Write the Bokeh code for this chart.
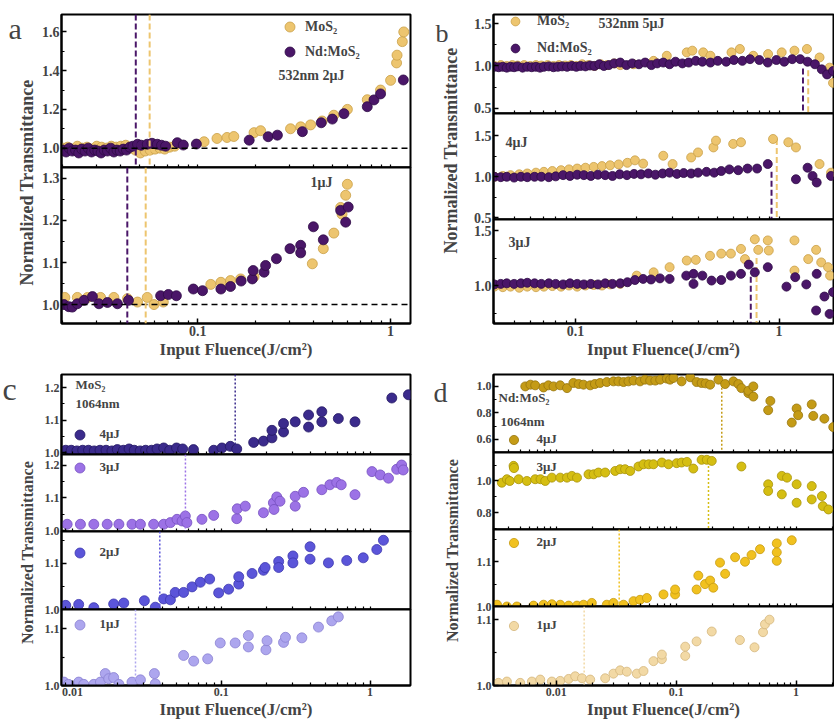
import math
from bokeh.plotting import figure
from bokeh.layouts import row, column
from bokeh.models import (Range1d, FixedTicker, PrintfTickFormatter, NumeralTickFormatter,
                          Span, Label, Legend, LegendItem)
from bokeh.core.validation import silence
from bokeh.core.validation.warnings import MISSING_RENDERERS
from bokeh.embed import file_html
from bokeh.resources import INLINE

silence(MISSING_RENDERERS, True)
SERIF = "Liberation Serif"

# ---------------- data ----------------
# panel a, 532nm 2uJ
a2_mos2_x = [0.0200, 0.0212, 0.0225, 0.0238, 0.0252, 0.0267, 0.0283, 0.0300, 0.0318, 0.0337, 0.0357, 0.0378,
             0.0400, 0.0424, 0.0449, 0.0476, 0.0505, 0.0535, 0.0567, 0.0601, 0.0637, 0.0675, 0.0716, 0.0760,
             0.108, 0.126, 0.142, 0.154, 0.196, 0.212, 0.303, 0.342, 0.385, 0.442, 0.508, 0.597, 0.757,
             0.887, 1.0, 1.074, 1.08, 1.15, 1.17]
a2_mos2_y = [1.0, 1.005, 0.995, 1.01, 1.0, 1.005, 0.995, 1.01, 1.005, 1.0, 1.01, 1.005,
             1.01, 1.015, 1.0, 0.99, 0.975, 0.985, 0.99, 0.995, 1.0, 0.995, 1.005, 1.01,
             1.033, 1.05, 1.055, 1.06, 1.08, 1.09, 1.10, 1.11, 1.12, 1.14, 1.17, 1.20, 1.25,
             1.30, 1.35, 1.44, 1.48, 1.55, 1.60]
a2_nd_x = [0.0200, 0.0208, 0.0216, 0.0224, 0.0233, 0.0242, 0.0251, 0.0261, 0.0271, 0.0282, 0.0293, 0.0304,
           0.0316, 0.0328, 0.0341, 0.0354, 0.0368, 0.0382, 0.0397, 0.0412, 0.0428, 0.0445, 0.0462, 0.0488,
           0.0510, 0.0548, 0.0580, 0.0618, 0.0650, 0.0682, 0.0785, 0.0843, 0.0985, 0.185, 0.232, 0.259,
           0.349, 0.437, 0.499, 0.573, 0.757, 0.820, 0.887, 1.164]
a2_nd_y = [0.99, 0.98, 1.0, 0.985, 0.99, 0.975, 0.995, 0.985, 1.0, 0.98, 0.99, 0.985,
           0.975, 0.99, 0.985, 1.0, 0.98, 0.99, 0.985, 0.995, 0.99, 1.005, 1.01, 1.02,
           1.015, 1.02, 1.025, 1.02, 1.015, 1.01, 1.028, 1.016, 1.021, 1.041, 1.059, 1.067,
           1.085, 1.131, 1.150, 1.178, 1.214, 1.249, 1.280, 1.352]
# panel a, 1uJ
a1_mos2_x = [0.0205, 0.0238, 0.0269, 0.0314, 0.0368, 0.0433, 0.0488, 0.0548, 0.0594, 0.0664,
             0.117, 0.132, 0.148, 0.167, 0.196, 0.393, 0.448, 0.508, 0.551, 0.585, 0.597, 0.560]
a1_mos2_y = [1.017, 1.017, 1.017, 1.017, 1.017, 1.014, 1.006, 1.017, 1.0, 1.006,
             1.048, 1.053, 1.057, 1.061, 1.066, 1.097, 1.133, 1.170, 1.231, 1.260, 1.286, 1.215]
a1_nd_x = [0.0203, 0.0215, 0.0224, 0.0238, 0.0258, 0.0285, 0.0308, 0.0341, 0.0384, 0.0438, 0.0643, 0.0705,
           0.0776, 0.095, 0.106, 0.132, 0.148, 0.168, 0.192, 0.194, 0.221, 0.225, 0.256, 0.301, 0.342,
           0.342, 0.398, 0.448, 0.551, 0.585, 0.603]
a1_nd_y = [1.0, 0.995, 0.994, 1.002, 1.01, 1.019, 1.002, 1.005, 1.002, 1.01, 1.021, 1.024,
           1.021, 1.037, 1.033, 1.037, 1.043, 1.056, 1.061, 1.081, 1.077, 1.093, 1.109, 1.133, 1.141,
           1.123, 1.185, 1.154, 1.224, 1.196, 1.232]
a_thr_mos2 = [0.0564, 0.0538]   # dashed thresholds (2uJ, 1uJ)
a_thr_nd = [0.0478, 0.0432]
a_ref_level = 1.0

# panel b, 532nm
b5_mos2_x = [0.040, 0.043, 0.046, 0.049, 0.052, 0.056, 0.060, 0.064, 0.068, 0.073, 0.078, 0.083, 0.089, 0.095,
             0.101, 0.108, 0.116, 0.124, 0.133, 0.143, 0.155, 0.166, 0.193, 0.242, 0.281, 0.352, 0.375,
             0.424, 0.46, 0.584, 0.642, 0.747, 0.883, 1.03, 1.19, 1.37, 1.58, 1.77, 1.84]
b5_mos2_y = [1.0, 1.01, 1.0, 1.01, 1.005, 1.01, 1.0, 1.01, 1.005, 1.01, 1.0, 1.01, 1.005, 1.01,
             1.0, 1.02, 1.01, 1.0, 1.02, 1.01, 1.03, 1.01, 1.02, 1.06, 1.12, 1.16, 1.18,
             1.16, 1.12, 1.16, 1.20, 1.12, 1.14, 1.16, 1.18, 1.20, 1.10, 0.98, 0.80]
b5_nd_x = [0.040, 0.042, 0.044, 0.046, 0.048, 0.050, 0.052, 0.055, 0.058, 0.061, 0.064, 0.067, 0.070, 0.074,
           0.078, 0.082, 0.086, 0.091, 0.096, 0.101, 0.106, 0.112, 0.118, 0.124, 0.131, 0.138, 0.146, 0.155,
           0.166, 0.178, 0.19, 0.205, 0.22, 0.236, 0.252, 0.27, 0.29, 0.31, 0.335, 0.36, 0.39, 0.42, 0.46,
           0.50, 0.55, 0.60, 0.66, 0.72, 0.80, 0.88, 0.97, 1.06, 1.16, 1.27, 1.38, 1.50, 1.62, 1.72, 1.84]
b5_nd_y = [0.99, 0.985, 0.99, 0.98, 0.99, 0.985, 0.995, 0.98, 0.99, 0.985, 0.99, 0.98, 0.99, 0.995,
           0.985, 0.99, 0.995, 0.99, 1.0, 0.99, 1.0, 0.995, 1.005, 1.0, 1.02, 1.0, 1.01, 1.03,
           1.04, 1.01, 1.03, 1.02, 1.04, 1.01, 1.03, 1.04, 1.02, 1.05, 1.03, 1.04, 1.06, 1.05, 1.04,
           1.06, 1.05, 1.07, 1.06, 1.08, 1.07, 1.04, 1.07, 1.05, 1.08, 1.08, 1.05, 1.02, 0.96, 0.90, 0.94]
b4_mos2_x = [0.040, 0.044, 0.048, 0.053, 0.058, 0.064, 0.070, 0.077, 0.085, 0.093, 0.102, 0.112, 0.123, 0.135,
             0.148, 0.163, 0.18, 0.196, 0.215, 0.27, 0.30, 0.37, 0.40, 0.476, 0.49, 0.595, 0.65, 0.934,
             1.11, 1.21, 1.58, 1.80]
b4_mos2_y = [1.0, 1.01, 1.02, 1.03, 1.04, 1.05, 1.06, 1.07, 1.08, 1.09, 1.10, 1.11, 1.12, 1.13,
             1.14, 1.15, 1.17, 1.20, 1.16, 1.256, 1.155, 1.235, 1.296, 1.357, 1.44, 1.40, 1.42, 1.46,
             1.42, 1.357, 1.155, 1.05]
b4_nd_x = [0.040, 0.043, 0.046, 0.050, 0.054, 0.058, 0.063, 0.068, 0.074, 0.080, 0.087, 0.094, 0.102, 0.110,
           0.119, 0.129, 0.140, 0.152, 0.165, 0.179, 0.194, 0.21, 0.228, 0.247, 0.268, 0.29, 0.315, 0.34,
           0.37, 0.40, 0.44, 0.48, 0.52, 0.57, 0.63, 0.70, 0.78, 0.88, 1.21, 1.38, 1.46, 1.53, 1.80]
b4_nd_y = [1.0, 0.995, 1.0, 0.99, 1.0, 0.995, 1.0, 1.0, 0.995, 1.005, 1.02, 1.01, 1.025, 1.02,
           1.01, 1.025, 1.02, 1.01, 1.03, 1.02, 1.035, 1.03, 1.04, 1.025, 1.04, 1.05, 1.035, 1.045,
           1.04, 1.05, 1.06, 1.05, 1.07, 1.09, 1.08, 1.10, 1.10, 1.155, 0.97, 1.11, 1.01, 0.93, 1.01]
b3_mos2_x = [0.040, 0.044, 0.048, 0.053, 0.058, 0.064, 0.070, 0.077, 0.085, 0.093, 0.102, 0.112, 0.123, 0.135,
             0.148, 0.166, 0.20, 0.242, 0.29, 0.352, 0.39, 0.458, 0.52, 0.58, 0.65, 0.68, 0.76, 0.79,
             0.88, 0.89, 1.19, 1.19, 1.39, 1.52, 1.61, 1.74, 1.78]
b3_mos2_y = [0.99, 0.985, 0.99, 0.98, 0.99, 0.985, 0.99, 0.995, 0.99, 1.0, 0.99, 1.0, 1.005, 1.0,
             1.01, 1.015, 1.09, 1.12, 1.167, 1.227, 1.233, 1.27, 1.29, 1.29, 1.333, 1.24, 1.42, 1.324,
             1.41, 1.318, 1.41, 1.136, 1.24, 1.324, 1.21, 1.167, 1.09]
b3_nd_x = [0.040, 0.043, 0.046, 0.050, 0.054, 0.058, 0.063, 0.068, 0.074, 0.080, 0.087, 0.094, 0.102, 0.110,
           0.119, 0.129, 0.140, 0.152, 0.166, 0.18, 0.196, 0.215, 0.235, 0.26, 0.29, 0.35, 0.38, 0.38,
           0.42, 0.466, 0.52, 0.58, 0.65, 0.71, 0.76, 0.88, 1.087, 1.20, 1.36, 1.52, 1.53, 1.67, 1.77, 1.84]
b3_nd_y = [1.01, 1.015, 1.02, 1.015, 1.02, 1.025, 1.02, 1.015, 1.02, 1.015, 1.01, 1.02, 1.015, 1.01,
           1.015, 1.01, 1.02, 1.015, 1.02, 1.03, 1.05, 1.06, 1.055, 1.065, 1.06, 1.09, 1.106, 1.015,
           1.09, 1.045, 1.05, 1.09, 1.106, 1.19, 1.12, 1.167, 0.99, 1.076, 1.01, 0.773, 1.106, 0.90, 0.742, 0.94]
b_thr_x = {"5": (1.39, 1.31), "4": (0.974, 0.918), "3": (0.775, 0.726)}   # (MoS2, Nd:MoS2)
b_thr_top = {"5": (0.95, 0.97), "4": (1.46, 1.06), "3": (1.25, 1.08)}

# panel c, MoS2 1064nm
c4_x = [0.0090, 0.0098, 0.0107, 0.0117, 0.0128, 0.0140, 0.0153, 0.0168, 0.0184, 0.0200, 0.0220, 0.0240,
        0.0260, 0.0285, 0.0310, 0.0340, 0.0370, 0.0410, 0.0450, 0.0500, 0.0550, 0.0650, 0.089, 0.101,
        0.115, 0.127, 0.165, 0.192, 0.219, 0.219, 0.262, 0.262, 0.314, 0.386, 0.386, 0.474, 0.474,
        0.612, 0.792, 1.40, 1.81]
c4_y = [1.008, 1.008, 1.006, 1.008, 1.008, 1.006, 1.008, 1.008, 1.006, 1.01, 1.008, 1.012,
        1.008, 1.006, 1.008, 1.008, 1.012, 1.015, 1.008, 1.015, 1.012, 1.01, 1.008, 1.015,
        1.02, 1.012, 1.032, 1.036, 1.046, 1.069, 1.064, 1.09, 1.095, 1.079, 1.116, 1.126, 1.095,
        1.105, 1.095, 1.168, 1.178]
c3_x = [0.0092, 0.0113, 0.0139, 0.0171, 0.0205, 0.0251, 0.0286, 0.0351, 0.041, 0.0455, 0.0504, 0.0545,
        0.0573, 0.0587, 0.0741, 0.0889, 0.127, 0.128, 0.145, 0.192, 0.224, 0.226, 0.236, 0.248, 0.314,
        0.314, 0.357, 0.474, 0.537, 0.597, 0.64, 0.792, 1.03, 1.17, 1.33, 1.51, 1.63, 1.67]
c3_y = [1.02, 1.02, 1.02, 1.02, 1.02, 1.02, 1.02, 1.02, 1.02, 1.025, 1.035, 1.03,
        1.045, 1.025, 1.035, 1.047, 1.037, 1.067, 1.075, 1.055, 1.085, 1.065, 1.103, 1.09, 1.105,
        1.075, 1.117, 1.125, 1.14, 1.147, 1.14, 1.11, 1.18, 1.17, 1.16, 1.187, 1.2, 1.185]
c2_x = [0.0090, 0.0110, 0.0139, 0.0189, 0.0221, 0.0304, 0.0360, 0.041, 0.0455, 0.049, 0.0558, 0.0636,
        0.0723, 0.0835, 0.096, 0.112, 0.131, 0.131, 0.161, 0.192, 0.197, 0.243, 0.243, 0.303, 0.303,
        0.395, 0.395, 0.525, 0.697, 0.90, 1.11, 1.23]
c2_y = [1.009, 1.011, 1.004, 1.012, 1.014, 1.019, 1.005, 1.023, 1.021, 1.037, 1.037, 1.049,
        1.059, 1.066, 1.036, 1.044, 1.055, 1.071, 1.078, 1.085, 1.091, 1.104, 1.091, 1.116, 1.101,
        1.136, 1.109, 1.101, 1.106, 1.112, 1.13, 1.15]
c1_x = [0.00875, 0.0094, 0.0110, 0.0119, 0.0139, 0.0154, 0.0166, 0.0175, 0.0189, 0.0205, 0.0251, 0.0286,
        0.0355, 0.0360, 0.0558, 0.0652, 0.081, 0.0984, 0.124, 0.152, 0.152, 0.1995, 0.203, 0.262, 0.27,
        0.348, 0.45, 0.553, 0.612]
c1_y = [1.006, 1.002, 1.006, 1.002, 1.002, 1.006, 1.021, 1.012, 1.014, 1.002, 1.006, 1.01,
        1.021, 1.003, 1.053, 1.043, 1.047, 1.075, 1.075, 1.088, 1.068, 1.063, 1.079, 1.076, 1.085,
        1.084, 1.103, 1.114, 1.121]
c_thr = [0.124, 0.0574, 0.0386, 0.0265]   # 4, 3, 2, 1 uJ

# panel d, Nd:MoS2 1064nm
d4_x = [0.00552, 0.0061, 0.00668, 0.00784, 0.0086, 0.0095, 0.0108, 0.0123, 0.0139, 0.0154, 0.0169, 0.0192,
        0.021, 0.0232, 0.0264, 0.030, 0.033, 0.0364, 0.040, 0.0441, 0.050, 0.055, 0.0607, 0.067, 0.0736,
        0.0836, 0.089, 0.095, 0.111, 0.131, 0.148, 0.163, 0.176, 0.192, 0.225, 0.256, 0.30, 0.33, 0.35,
        0.40, 0.40, 0.44, 0.44, 0.585, 0.61, 0.92, 1.01, 1.04, 1.35, 1.39, 1.72, 2.04]
d4_y = [1.0, 1.013, 1.008, 0.992, 1.008, 1.0, 1.008, 0.987, 1.026, 1.018, 1.013, 1.008,
        1.018, 1.026, 1.033, 1.038, 1.038, 1.033, 1.038, 1.044, 1.038, 1.051, 1.044, 1.044, 1.051,
        1.059, 1.051, 1.064, 1.038, 1.069, 1.033, 1.026, 1.023, 1.013, 1.051, 1.018, 1.038, 1.018, 0.987,
        0.949, 0.967, 0.923, 1.0, 0.82, 0.89, 0.726, 0.833, 0.782, 0.864, 0.777, 0.756, 0.692]
d3_x = [0.00352, 0.00388, 0.0041, 0.00441, 0.00486, 0.00569, 0.00668, 0.0074, 0.0081, 0.0092, 0.0108, 0.0123,
        0.0135, 0.0149, 0.0186, 0.0205, 0.0225, 0.0256, 0.031, 0.0341, 0.0375, 0.0414, 0.0485, 0.0534,
        0.059, 0.0647, 0.076, 0.0863, 0.101, 0.111, 0.123, 0.139, 0.163, 0.18, 0.198, 0.35, 0.585, 0.585,
        0.76, 0.76, 0.84, 1.01, 1.01, 1.35, 1.35, 1.64, 1.67, 1.86]
d3_y = [0.989, 1.011, 1.0, 1.095, 1.011, 1.0, 1.011, 1.011, 1.0, 1.021, 1.021, 1.021,
        1.032, 1.021, 1.042, 1.042, 1.053, 1.053, 1.063, 1.074, 1.074, 1.063, 1.091, 1.105,
        1.105, 1.105, 1.116, 1.105, 1.112, 1.116, 1.12, 1.078, 1.133, 1.133, 1.126, 1.091, 0.979, 0.937,
        1.032, 0.916, 1.021, 0.979, 0.863, 0.968, 0.884, 0.905, 0.842, 0.821]
d2_x = [0.00321, 0.00388, 0.0047, 0.00647, 0.00784, 0.0092, 0.0108, 0.0127, 0.0149, 0.0169, 0.0198, 0.0264,
        0.030, 0.0364, 0.0441, 0.050, 0.057, 0.0784, 0.098, 0.098, 0.148, 0.153, 0.174, 0.192, 0.204,
        0.232, 0.256, 0.31, 0.375, 0.425, 0.50, 0.69, 0.69, 0.69, 0.92]
d2_y = [1.004, 1.0, 1.0, 1.002, 1.004, 1.005, 1.004, 1.002, 1.002, 1.004, 1.008, 1.004,
        1.008, 1.004, 1.012, 1.015, 1.019, 1.027, 1.027, 1.038, 1.038, 1.069, 1.05, 1.058, 1.042,
        1.098, 1.073, 1.11, 1.1, 1.115, 1.128, 1.141, 1.121, 1.102, 1.148]
d1_x = [0.0033, 0.00388, 0.00501, 0.00627, 0.00736, 0.0092, 0.0108, 0.0127, 0.0144, 0.0164, 0.0192, 0.0256,
        0.030, 0.0341, 0.0388, 0.047, 0.0534, 0.0647, 0.076, 0.076, 0.119, 0.119, 0.148, 0.198, 0.34,
        0.45, 0.53, 0.55, 0.60]
d1_y = [1.004, 1.006, 1.004, 1.006, 1.009, 1.006, 1.007, 1.01, 1.014, 1.011, 1.009, 1.011,
        1.018, 1.023, 1.021, 1.018, 1.022, 1.037, 1.04, 1.047, 1.045, 1.059, 1.067, 1.082, 1.069,
        1.058, 1.081, 1.093, 1.1]
d_thr = [0.24, 0.186, 0.0335, 0.0171]
d_thr_top = [0.99, 1.12]

XT_MINOR = [0.002, 0.003, 0.004, 0.005, 0.006, 0.007, 0.008, 0.009,
            0.02, 0.03, 0.04, 0.05, 0.06, 0.07, 0.08, 0.09,
            0.2, 0.3, 0.4, 0.5, 0.6, 0.7, 0.8, 0.9,
            2, 3, 4, 5, 6, 7, 8, 9]

# ---------------- colours ----------------
YEL, YEL_L = "#EDC56F", "#C9A048"
PUR, PUR_L = "#4A1668", "#2E0B45"
C_COL = {"4": ("#3B2B8C", "#231863"), "3": ("#9C72E6", "#7650C0"), "2": ("#5B55D9", "#3C37AE"), "1": ("#ADA6EE", "#8A82D2")}
D_COL = {"4": ("#C49B16", "#97750C"), "3": ("#D5BE12", "#A8930A"), "2": ("#F1C11F", "#C79A10"), "1": ("#F2D9A5", "#D4B67C")}

OV = 9   # overlap of stacked sub-panels, so boundary tick labels are not clipped


def sub(xr, yr, fw, fh, yt, ymt, xt, tick_fs, lb, rb, tb=None, bb=None, last=False, title_fs="17px"):
    top = OV if tb is None else tb
    bottom = OV if bb is None else bb
    p = figure(x_axis_type="log", x_range=Range1d(*xr), y_range=Range1d(*yr),
               frame_width=fw, frame_height=fh, toolbar_location=None, output_backend="svg",
               min_border_left=lb, min_border_right=rb, min_border_top=top, min_border_bottom=bottom,
               margin=(0, 0, -2 * OV if bb is None else 0, 0))
    p.grid.visible = False
    p.outline_line_color = "black"
    p.outline_line_width = 2
    p.background_fill_color = "white"
    p.border_fill_color = None
    ax, ay = p.xaxis[0], p.yaxis[0]
    ay.ticker = FixedTicker(ticks=yt, minor_ticks=ymt)
    ay.formatter = PrintfTickFormatter(format="%.1f")
    for a in (ax, ay):
        a.major_tick_in = 5
        a.major_tick_out = 0
        a.minor_tick_in = 3
        a.minor_tick_out = 0
        a.axis_line_width = 2
        a.major_tick_line_width = 1.5
        a.minor_tick_line_width = 1.2
        a.major_label_text_font = SERIF
        a.major_label_text_font_style = "bold"
        a.major_label_text_font_size = tick_fs
        a.major_label_standoff = 2
    if last:
        ax.ticker = FixedTicker(ticks=xt, minor_ticks=XT_MINOR)
        ax.formatter = NumeralTickFormatter(format="0.[00]")
        ax.axis_label = "Input Fluence(J/cm²)"
        ax.axis_label_text_font = SERIF
        ax.axis_label_text_font_style = "bold"
        ax.axis_label_text_font_size = title_fs
        ax.axis_label_standoff = 1
    else:
        # inner panels: tick marks only, no labels
        ax.ticker = FixedTicker(ticks=[], minor_ticks=XT_MINOR + list(xt))
        ax.major_label_standoff = 0
    return p


def pts(p, x, y, col, size):
    return p.scatter(x, y, size=size, fill_color=col[0], line_color=col[1], line_width=0.8)


def txt(p, x, y, t, fs="14px"):
    p.add_layout(Label(x=x, y=y, x_units="screen", y_units="screen", text=t, text_font=SERIF,
                       text_font_style="bold", text_font_size=fs, text_baseline="middle"))


def legend(p, items, loc, fs, gw, gh, spacing, standoff):
    lg = Legend(items=[LegendItem(label=l, renderers=[r]) for l, r in items], location=loc,
                label_text_font=SERIF, label_text_font_style="bold", label_text_font_size=fs,
                glyph_width=gw, glyph_height=gh, label_height=gh, spacing=spacing,
                label_standoff=standoff, padding=0, margin=0, border_line_color=None,
                background_fill_alpha=0)
    p.add_layout(lg)


def label_fig(w, h, letter, lx, ly, lfs, tx, ty, tfs):
    p = figure(width=w, height=h, x_range=Range1d(0, 1), y_range=Range1d(0, 1),
               toolbar_location=None, output_backend="svg", min_border=0,
               x_axis_location=None, y_axis_location=None)
    p.grid.visible = False
    p.outline_line_color = None
    p.add_layout(Label(x=lx, y=ly, x_units="screen", y_units="screen", text=letter,
                       text_font=SERIF, text_font_size=lfs, text_baseline="alphabetic"))
    p.add_layout(Label(x=tx, y=ty, x_units="screen", y_units="screen", text="Normalized Transmittance",
                       text_font=SERIF, text_font_style="bold", text_font_size=tfs, angle=math.pi / 2,
                       text_align="center", text_baseline="middle"))
    return p


YC, PC = (YEL, YEL_L), (PUR, PUR_L)

# ---------------- panel a ----------------
AX = (0.0197, 1.268)
a_top = sub(AX, (0.90, 1.69), 349, 153, [1.0, 1.2, 1.4, 1.6], [1.1, 1.3, 1.5], [0.1, 1], "14px", 24, 4, tb=14)
a_bot = sub(AX, (0.955, 1.326), 349, 156, [1.0, 1.1, 1.2, 1.3], [1.05, 1.15, 1.25], [0.1, 1], "14px", 24, 4,
            bb=38, last=True)
for p, thr_i in ((a_top, 0), (a_bot, 1)):
    p.add_layout(Span(location=a_ref_level, dimension="width", line_color="black", line_dash="6 4", line_width=1.5))
    p.add_layout(Span(location=a_thr_nd[thr_i], dimension="height", line_color=PUR, line_dash="6 3", line_width=2))
    p.add_layout(Span(location=a_thr_mos2[thr_i], dimension="height", line_color=YEL, line_dash="6 3", line_width=2))
ry = pts(a_top, a2_mos2_x, a2_mos2_y, YC, 10)
rp = pts(a_top, a2_nd_x, a2_nd_y, PC, 10)
legend(a_top, [("MoS₂", ry), ("Nd:MoS₂", rp)], (216, 103), "14px", 25, 25, 0, 3)
txt(a_top, 217, 92, "532nm 2μJ")
pts(a_bot, a1_mos2_x, a1_mos2_y, YC, 10)
pts(a_bot, a1_nd_x, a1_nd_y, PC, 10)
txt(a_bot, 249, 141, "1μJ")

# ---------------- panel b ----------------
BX = (0.0396, 1.85)
b5 = sub(BX, (0.44, 1.606), 340, 99, [0.5, 1.0, 1.5], [0.75, 1.25], [0.1, 1], "14px", 31, 1, tb=14)
b4 = sub(BX, (0.48, 1.77), 340, 106, [0.5, 1.0, 1.5], [0.75, 1.25], [0.1, 1], "14px", 31, 1)
b3 = sub(BX, (0.655, 1.6), 340, 104, [1.0, 1.5], [0.75, 1.25], [0.1, 1], "14px", 31, 1, bb=38, last=True)
for p, key, mx, my, nx, ny in ((b5, "5", b5_mos2_x, b5_mos2_y, b5_nd_x, b5_nd_y),
                               (b4, "4", b4_mos2_x, b4_mos2_y, b4_nd_x, b4_nd_y),
                               (b3, "3", b3_mos2_x, b3_mos2_y, b3_nd_x, b3_nd_y)):
    y0 = p.y_range.start
    (tm, tn), (hm, hn) = b_thr_x[key], b_thr_top[key]
    p.segment(x0=[tm], y0=[hm], x1=[tm], y1=[y0], line_color=YEL, line_dash="6 3", line_width=2)
    p.segment(x0=[tn], y0=[hn], x1=[tn], y1=[y0], line_color=PUR, line_dash="6 3", line_width=2)
    r1 = pts(p, mx, my, YC, 9)
    r2 = pts(p, nx, ny, PC, 9)
    if key == "5":
        legend(p, [("MoS₂", r1), ("Nd:MoS₂", r2)], (11, 54), "14px", 22, 22, 5, 11)
        txt(p, 105, 90, "532nm 5μJ")
txt(b4, 12, 77, "4μJ")
txt(b3, 15, 81, "3μJ")

# ---------------- panel c ----------------
CX = (0.00843, 1.87)
CT = [0.01, 0.1, 1]
c_figs = [
    sub(CX, (0.995, 1.24), 349, 80, [1.0, 1.1, 1.2], [1.05, 1.15], CT, "12px", 24, 4, tb=13),
    sub(CX, (0.998, 1.232), 349, 77, [1.0, 1.1, 1.2], [1.05, 1.15], CT, "12px", 24, 4),
    sub(CX, (1.0, 1.169), 349, 78, [1.0, 1.1], [1.05, 1.15], CT, "12px", 24, 4),
    sub(CX, (1.0, 1.134), 349, 76, [1.0, 1.1], [1.05], CT, "12px", 24, 4, bb=35, last=True),
]
c_series = [("4", c4_x, c4_y, 7.5), ("3", c3_x, c3_y, 51.5), ("2", c2_x, c2_y, 44.5), ("1", c1_x, c1_y, 48.5)]
for p, (key, xs, ys, lgy), thr in zip(c_figs, c_series, c_thr):
    p.add_layout(Span(location=thr, dimension="height", line_color=C_COL[key][0], line_dash="2 2", line_width=1.5))
    r = pts(p, xs, ys, C_COL[key], 10)
    legend(p, [(f"{key}μJ", r)], (5.5, lgy), "13px", 25, 25, 0, 8)
txt(c_figs[0], 14, 70, "MoS₂", "13px")
txt(c_figs[0], 14, 51, "1064nm", "13px")

# ---------------- panel d ----------------
DX = (0.003, 2.05)
d_figs = [
    sub(DX, (0.5, 1.09), 340, 78, [0.6, 0.8, 1.0], [0.7, 0.9], CT, "12px", 31, 1, tb=13),
    sub(DX, (0.695, 1.179), 340, 77, [0.8, 1.0], [0.7, 0.9, 1.1], CT, "12px", 31, 1),
    sub(DX, (1.0, 1.172), 340, 77, [1.0, 1.1], [1.05, 1.15], CT, "12px", 31, 1),
    sub(DX, (1.0, 1.12), 340, 79, [1.0, 1.1], [1.05], CT, "12px", 31, 1, bb=35, last=True),
]
d_series = [("4", d4_x, d4_y, 1.5), ("3", d3_x, d3_y, 50.5), ("2", d2_x, d2_y, 52.5), ("1", d1_x, d1_y, 48.5)]
for i, (p, (key, xs, ys, lgy), thr) in enumerate(zip(d_figs, d_series, d_thr)):
    col = D_COL[key][0]
    if i < 2:
        p.segment(x0=[thr], y0=[d_thr_top[i]], x1=[thr], y1=[p.y_range.start], line_color=col,
                  line_dash="2 2", line_width=1.5)
    else:
        p.add_layout(Span(location=thr, dimension="height", line_color=col, line_dash="2 2", line_width=1.5))
    r = pts(p, xs, ys, D_COL[key], 9)
    legend(p, [(f"{key}μJ", r)], (8.5, lgy), "13px", 23, 23, 0, 12)
txt(d_figs[0], 5, 55, "Nd:MoS₂", "13px")
txt(d_figs[0], 7, 31, "1064nm", "13px")

# ---------------- layout ----------------
la = label_fig(37, 361, "a", 8, 333, "30px", 26, 179, "18px")
lb = label_fig(48, 361, "b", 21, 328, "26px", 36, 211, "18px")
lc = label_fig(37, 359, "c", 2, 332, "32px", 27, 168, "16px")
ld = label_fig(48, 359, "d", 19, 328, "28px", 38, 170, "16px")

layout = column(
    row(la, column(a_top, a_bot), lb, column(b5, b4, b3)),
    row(lc, column(*c_figs), ld, column(*d_figs)),
)

open("out.html", "w").write(file_html(layout, INLINE))
